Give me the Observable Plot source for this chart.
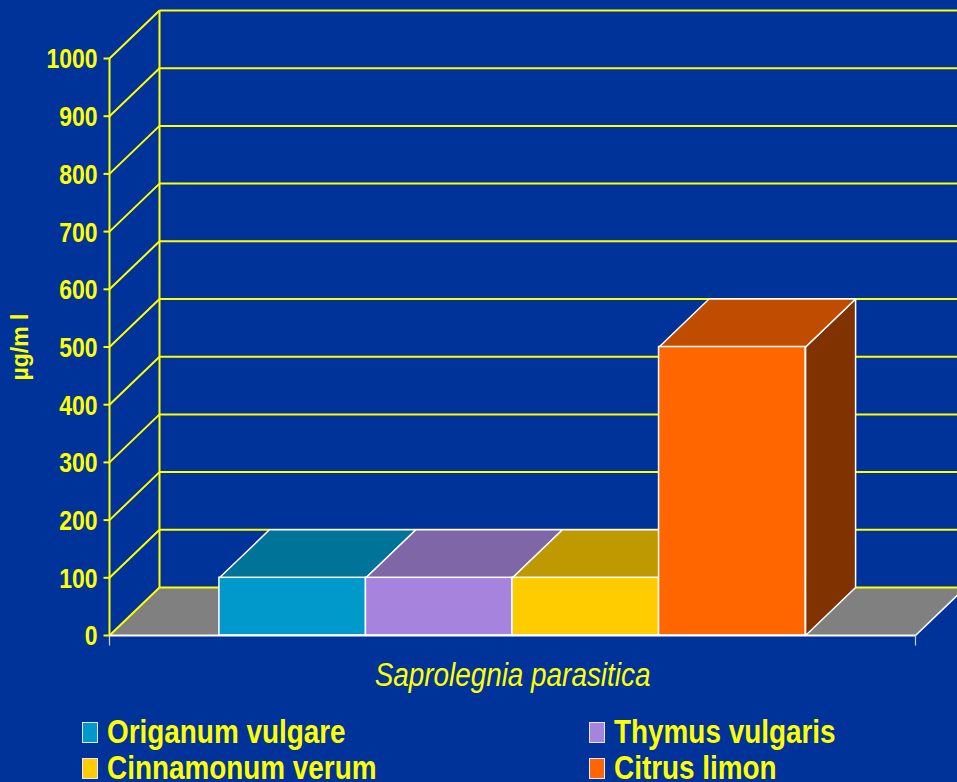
<!DOCTYPE html>
<html>
<head>
<meta charset="utf-8">
<script src="https://cdn.jsdelivr.net/npm/d3@7"></script>
<script src="https://cdn.jsdelivr.net/npm/@observablehq/plot@0.6"></script>
<style>
  html, body { margin: 0; padding: 0; background: #003399; overflow: hidden; }
  #wrap { position: relative; width: 957px; height: 782px; overflow: hidden; background: #003399; }
  #legend { position: absolute; left: 0; top: 700px; width: 957px; height: 82px; }
  .item { position: absolute; height: 36px; color: #FFFF00; white-space: nowrap; }
  .sw { position: absolute; left: 0; top: 8px; width: 14px; height: 19px; border: 1px solid #E8E8F8; }
  .lab { position: absolute; left: 25px; top: 0; font: bold 34px "Liberation Sans", Arial, sans-serif; line-height: 34px;
         transform: scaleX(0.82); transform-origin: 0 50%; }
</style>
</head>
<body>
<div id="wrap">
  <div id="chart"></div>
  <div id="legend"></div>
</div>
<script>
// ---- data ----
const categories = ["Origanum vulgare", "Thymus vulgaris", "Cinnamonum verum", "Citrus limon"];
const values = [100, 100, 100, 500];
const frontColors = ["#0099CC", "#A683DD", "#FFCC00", "#FF6600"];
const topColors = ["#007399", "#7F66A6", "#BF9900", "#BF4C00"];
const sideColors = ["#005A7A", "#5E4C80", "#8C7000", "#803300"];
const yTicks = [0, 100, 200, 300, 400, 500, 600, 700, 800, 900, 1000];
const xTitle = "Saprolegnia parasitica";
const yTitle = "µg/m l";

// ---- layout ----
const W = 957, H = 700;
const mL = 109, mR = 42, mT = 58, mB = 65;
const pad = 0.75;                 // category padding (in bar widths)
const x0 = -pad, x1 = categories.length + pad;
const kx = (W - mL - mR) / (x1 - x0);
const ky = (H - mT - mB) / 1000;
const depthX = 50 / kx;           // depth offset in data units
const depthY = 48 / ky;

const YEL = "#FFFF00";
const FONT = "'Liberation Sans', Arial, sans-serif";

function poly(pts) { return pts.concat([pts[0]]).map(([x, y]) => ({x, y})); }

const marks = [];

// floor
marks.push(Plot.line(poly([[x0, 0], [x1, 0], [x1 + depthX, depthY], [x0 + depthX, depthY]]),
  {x: "x", y: "y", fill: "#808080", stroke: "none"}));
// floor right edge (white)
marks.push(Plot.link([0], {x1: x1, y1: 0, x2: x1 + depthX, y2: depthY, stroke: "white", strokeWidth: 1.5}));

// back wall gridlines
marks.push(Plot.link(yTicks, {x1: x0 + depthX, y1: d => d + depthY, x2: x1 + 3, y2: d => d + depthY, stroke: YEL, strokeWidth: 2}));
// left wall diagonals
marks.push(Plot.link(yTicks, {x1: x0, y1: d => d, x2: x0 + depthX, y2: d => d + depthY, stroke: YEL, strokeWidth: 2}));
// wall corner vertical
marks.push(Plot.link([0], {x1: x0 + depthX, y1: depthY, x2: x0 + depthX, y2: 1000 + depthY, stroke: YEL, strokeWidth: 2}));
// front axis line
marks.push(Plot.link([0], {x1: x0, y1: 0, x2: x0, y2: 1000, stroke: YEL, strokeWidth: 2}));
// tick marks
marks.push(Plot.link(yTicks, {x1: x0 - 6 / kx, y1: d => d, x2: x0, y2: d => d, stroke: YEL, strokeWidth: 2}));
// tick labels
marks.push(Plot.text(yTicks, {x: x0, y: d => d, text: d => String(d), dx: -12, dy: 1, textAnchor: "end",
  fill: YEL, fontSize: 28, fontWeight: "bold", fontFamily: FONT}));

// bars: side faces, top faces, front faces
categories.forEach((c, i) => {
  const v = values[i];
  marks.push(Plot.line(poly([[i + 1, 0], [i + 1 + depthX, depthY], [i + 1 + depthX, v + depthY], [i + 1, v]]),
    {x: "x", y: "y", fill: sideColors[i], stroke: "white", strokeWidth: 1.5}));
});
categories.forEach((c, i) => {
  const v = values[i];
  marks.push(Plot.line(poly([[i, v], [i + 1, v], [i + 1 + depthX, v + depthY], [i + depthX, v + depthY]]),
    {x: "x", y: "y", fill: topColors[i], stroke: "white", strokeWidth: 1.5}));
});
marks.push(Plot.rect(categories.map((c, i) => ({c, i, v: values[i], f: frontColors[i]})),
  {x1: d => d.i, x2: d => d.i + 1, y1: 0, y2: "v", fill: "f", stroke: "white", strokeWidth: 1.5, inset: 0}));

// baseline (white) and small ticks
marks.push(Plot.link([0], {x1: x0, y1: 0, x2: x1, y2: 0, stroke: "white", strokeWidth: 2}));
marks.push(Plot.link([x0, x1], {x1: d => d, y1: 0, x2: d => d, y2: -10 / ky, stroke: "#D0D0E8", strokeWidth: 1.2}));

// titles
marks.push(Plot.text([xTitle], {frameAnchor: "bottom", dy: 40, text: d => d, fill: YEL, fontSize: 33,
  fontStyle: "italic", fontFamily: FONT, lineAnchor: "middle", textAnchor: "middle"}));
marks.push(Plot.text([yTitle], {frameAnchor: "left", dx: -89, text: d => d, rotate: -90, fill: YEL, fontSize: 23,
  fontWeight: "bold", fontFamily: FONT, lineAnchor: "middle", textAnchor: "middle"}));

const chart = Plot.plot({
  width: W, height: H,
  marginLeft: mL, marginRight: mR, marginTop: mT, marginBottom: mB,
  x: {domain: [x0, x1], axis: null},
  y: {domain: [0, 1000], axis: null},
  color: {type: "identity"},
  style: {background: "transparent", overflow: "visible"},
  marks
});

// condense the tick labels and x title horizontally (Arial Narrow look)
chart.querySelectorAll("text").forEach(t => {
  if (t.textContent === yTitle) return;
  const k = t.textContent === xTitle ? 0.845 : 0.82;
  const tr = t.getAttribute("transform") || "";
  const xa = parseFloat(t.getAttribute("x"));
  const x = isFinite(xa) ? xa : 0;
  t.setAttribute("transform", `${tr} translate(${x},0) scale(${k},1) translate(${-x},0)`);
});
document.getElementById("chart").appendChild(chart);

// legend
const legend = document.getElementById("legend");
const pos = [[82, 14], [589, 14], [82, 50], [589, 50]];
categories.forEach((c, i) => {
  const it = document.createElement("div");
  it.className = "item";
  it.style.left = pos[i][0] + "px";
  it.style.top = pos[i][1] + "px";
  const sw = document.createElement("div");
  sw.className = "sw";
  sw.style.background = frontColors[i];
  const lab = document.createElement("div");
  lab.className = "lab";
  lab.textContent = c;
  it.appendChild(sw); it.appendChild(lab);
  legend.appendChild(it);
});
</script>
</body>
</html>
